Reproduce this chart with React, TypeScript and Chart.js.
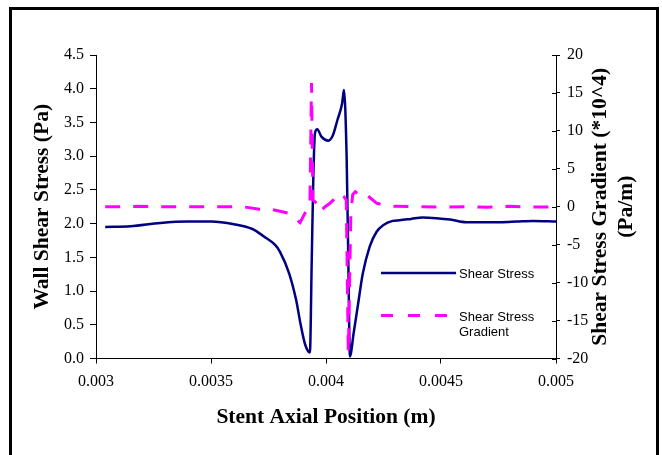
import React, { useEffect, useRef } from "react";
import { Chart, registerables } from "chart.js";

Chart.register(...registerables);

// ---- data ----
const stressX = [
  0.00304, 0.00315, 0.00328, 0.0034, 0.0035, 0.0036, 0.00368, 0.00373, 0.00378, 0.0038,
  0.00384, 0.00387, 0.00389, 0.00391, 0.00393, 0.003938, 0.003945, 0.003952, 0.003962, 0.00398,
  0.00401, 0.00403, 0.00405, 0.00407, 0.004078, 0.00409, 0.004097, 0.004104, 0.00412, 0.00414,
  0.00416, 0.00419, 0.00422, 0.00425, 0.00429, 0.00432, 0.00437, 0.00442, 0.00448, 0.00454,
  0.00461, 0.00468, 0.00476, 0.00483, 0.0049, 0.005,
];
const stressY = [
  1.95, 1.96, 2.01, 2.03, 2.03, 1.99, 1.92, 1.81, 1.68, 1.58,
  1.26, 0.87, 0.5, 0.2, 0.09, 1.46, 2.7, 3.34, 3.4, 3.29,
  3.23, 3.31, 3.54, 3.78, 3.98, 2.94, 1.46, 0.03, 0.37, 0.82,
  1.26, 1.66, 1.88, 1.98, 2.04, 2.05, 2.07, 2.09, 2.08, 2.06,
  2.02, 2.02, 2.02, 2.03, 2.04, 2.03,
];
const gradX = [
  0.00304, 0.0031, 0.00318, 0.00326, 0.00334, 0.00342, 0.0035, 0.00358, 0.00365, 0.00371,
  0.00375, 0.00379, 0.00384, 0.003887, 0.003916, 0.00393, 0.003937, 0.003943, 0.00396, 0.003974,
  0.003996, 0.004017, 0.004039, 0.004061, 0.004078, 0.004088, 0.004097, 0.004108, 0.004116, 0.004127,
  0.004155, 0.004177, 0.004221, 0.00426, 0.0043, 0.0044, 0.0045, 0.0046, 0.0047, 0.0048,
  0.0049, 0.005,
];
const gradY = [
  0.0, 0.0, 0.05, 0.0, 0.0, 0.0, 0.0, 0.0, -0.05, -0.34,
  -0.3, -0.52, -0.86, -2.1, -0.43, 0.1, 16.3, 0.9, 0.45, -0.65,
  0.0, 0.45, 1.1, 1.77, 1.32, 0.9, -19.3, -1.0, 1.6, 1.98,
  1.32, 1.55, 0.45, 0.2, 0.05, 0.0, -0.05, 0.0, -0.05, 0.05,
  -0.05, 0.0,
];

const xTicks = [0.003, 0.0035, 0.004, 0.0045, 0.005];
const xTickLabels = ["0.003", "0.0035", "0.004", "0.0045", "0.005"];
const leftTicks = [0, 0.5, 1, 1.5, 2, 2.5, 3, 3.5, 4, 4.5];
const leftTickLabels = ["0.0", "0.5", "1.0", "1.5", "2.0", "2.5", "3.0", "3.5", "4.0", "4.5"];
const rightTicks = [-20, -15, -10, -5, 0, 5, 10, 15, 20];
const rightTickLabels = ["-20", "-15", "-10", "-5", "0", "5", "10", "15", "20"];

const seriesNames = ["Shear Stress", "Shear Stress Gradient"];
const xTitle = "Stent Axial Position (m)";
const leftTitle = "Wall Shear Stress (Pa)";
const rightTitle = ["Shear Stress Gradient (*10^4)", "(Pa/m)"];

const NAVY = "#000080";
const MAGENTA = "#FF00FF";
const SERIF = '"Liberation Serif", "Times New Roman", serif';
const SANS = '"Liberation Sans", Arial, sans-serif';

const decorPlugin = {
  id: "decor",
  afterDraw(chart: any) {
    const ctx = chart.ctx as CanvasRenderingContext2D;
    const { left, right, top, bottom } = chart.chartArea;
    ctx.save();
    // frame
    ctx.fillStyle = "#000";
    ctx.fillRect(9, 7, 3, 448);
    ctx.fillRect(9, 7, 650, 3);
    ctx.fillRect(656, 7, 3, 448);

    // inner half of right-axis ticks
    const y1 = chart.scales.y1;
    ctx.strokeStyle = "#000";
    ctx.lineWidth = 1;
    ctx.beginPath();
    rightTicks.forEach((v) => {
      const yy = Math.round(y1.getPixelForValue(v)) + 0.5;
      ctx.moveTo(right - 4, yy);
      ctx.lineTo(right, yy);
    });
    ctx.stroke();

    // titles
    ctx.fillStyle = "#000";
    ctx.font = `bold 21.5px ${SERIF}`;
    ctx.textAlign = "center";
    ctx.textBaseline = "middle";
    ctx.fillText(xTitle, (left + right) / 2, 417);

    ctx.save();
    ctx.translate(42, (top + bottom) / 2);
    ctx.rotate(-Math.PI / 2);
    ctx.fillText(leftTitle, 0, 0);
    ctx.restore();

    ctx.save();
    ctx.translate(600, (top + bottom) / 2);
    ctx.rotate(-Math.PI / 2);
    ctx.fillText(rightTitle[0], 0, 0);
    ctx.fillText(rightTitle[1], 0, 26);
    ctx.restore();

    // legend
    ctx.lineCap = "butt";
    ctx.strokeStyle = NAVY;
    ctx.lineWidth = 2.5;
    ctx.setLineDash([]);
    ctx.beginPath();
    ctx.moveTo(381, 273);
    ctx.lineTo(456, 273);
    ctx.stroke();

    ctx.strokeStyle = MAGENTA;
    ctx.lineWidth = 3;
    ctx.setLineDash([12, 15]);
    ctx.beginPath();
    ctx.moveTo(381, 315.5);
    ctx.lineTo(456, 315.5);
    ctx.stroke();
    ctx.setLineDash([]);

    ctx.fillStyle = "#000";
    ctx.font = `13px ${SANS}`;
    ctx.textAlign = "left";
    ctx.textBaseline = "middle";
    ctx.fillText(seriesNames[0], 459, 274);
    ctx.fillText("Shear Stress", 459, 317);
    ctx.fillText("Gradient", 459, 332);
    ctx.restore();
  },
};

export default function App() {
  const canvasRef = useRef<HTMLCanvasElement | null>(null);

  useEffect(() => {
    const canvas = canvasRef.current;
    if (!canvas) return;
    const tickFont = { family: SERIF, size: 16 };
    const chart = new Chart(canvas, {
      type: "line",
      data: {
        datasets: [
          {
            label: seriesNames[0],
            data: stressX.map((x, i) => ({ x, y: stressY[i] })),
            borderColor: NAVY,
            borderWidth: 2.5,
            pointRadius: 0,
            cubicInterpolationMode: "monotone",
            fill: false,
            yAxisID: "y",
            order: 1,
          },
          {
            label: seriesNames[1],
            data: gradX.map((x, i) => ({ x, y: gradY[i] })),
            borderColor: MAGENTA,
            borderWidth: 3,
            borderDash: [15, 13],
            pointRadius: 0,
            tension: 0,
            fill: false,
            yAxisID: "y1",
            order: 0,
          },
        ],
      },
      options: {
        responsive: false,
        animation: false,
        devicePixelRatio: 1,
        layout: { padding: { top: 55, left: 0, right: 0, bottom: 0 } },
        plugins: { legend: { display: false }, tooltip: { enabled: false } },
        scales: {
          x: {
            type: "linear",
            position: "bottom",
            min: 0.003,
            max: 0.005,
            afterBuildTicks: (s: any) => {
              s.ticks = xTicks.map((v) => ({ value: v }));
            },
            afterFit: (s: any) => {
              s.height = 96.5;
            },
            ticks: {
              callback: (_v: any, i: number) => xTickLabels[i],
              font: tickFont,
              color: "#000",
              padding: 9,
              maxRotation: 0,
              autoSkip: false,
            },
            grid: { drawOnChartArea: false, drawTicks: true, tickLength: 5, color: "#000" },
            border: { display: true, color: "#000", width: 1 },
          },
          y: {
            type: "linear",
            position: "left",
            min: 0,
            max: 4.5,
            afterBuildTicks: (s: any) => {
              s.ticks = leftTicks.map((v) => ({ value: v }));
            },
            afterFit: (s: any) => {
              s.width = 96;
            },
            ticks: {
              callback: (_v: any, i: number) => leftTickLabels[i],
              font: tickFont,
              color: "#000",
              padding: 6,
              autoSkip: false,
            },
            grid: { drawOnChartArea: false, drawTicks: true, tickLength: 6, color: "#000" },
            border: { display: true, color: "#000", width: 1 },
          },
          y1: {
            type: "linear",
            position: "right",
            min: -20,
            max: 20,
            afterBuildTicks: (s: any) => {
              s.ticks = rightTicks.map((v) => ({ value: v }));
            },
            afterFit: (s: any) => {
              s.width = 106;
            },
            ticks: {
              callback: (_v: any, i: number) => rightTickLabels[i],
              font: tickFont,
              color: "#000",
              padding: 7,
              autoSkip: false,
            },
            grid: { drawOnChartArea: false, drawTicks: true, tickLength: 4, color: "#000" },
            border: { display: true, color: "#000", width: 1 },
          },
        },
      },
      plugins: [decorPlugin],
    });
    return () => chart.destroy();
  }, []);

  return (
    <div style={{ position: "absolute", left: 0, top: 0, width: 662, height: 455, background: "#fff" }}>
      <canvas ref={canvasRef} width={662} height={455} style={{ display: "block" }} />
    </div>
  );
}
